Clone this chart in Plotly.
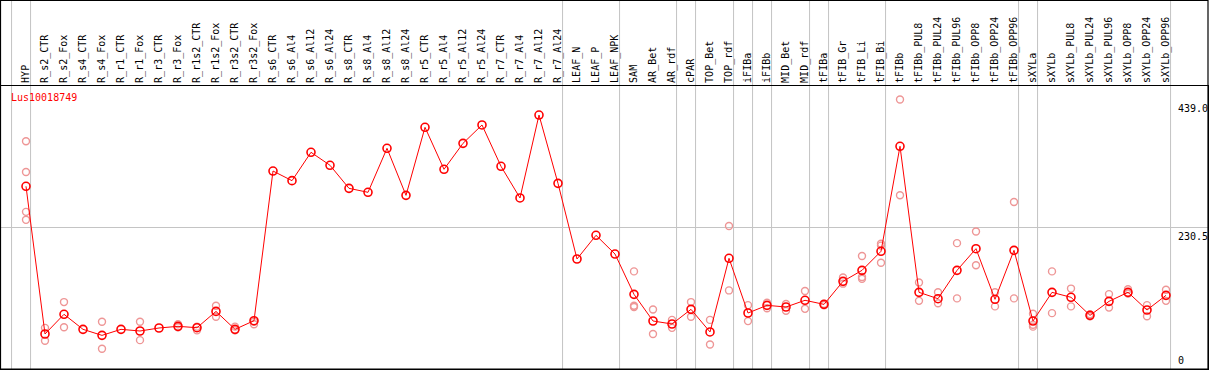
import plotly.graph_objects as go

categories = [
    "HYP", "R_s2_CTR", "R_s2_Fox", "R_s4_CTR", "R_s4_Fox", "R_r1_CTR", "R_r1_Fox",
    "R_r3_CTR", "R_r3_Fox", "R_r1s2_CTR", "R_r1s2_Fox", "R_r3s2_CTR", "R_r3s2_Fox",
    "R_s6_CTR", "R_s6_Al4", "R_s6_Al12", "R_s6_Al24",
    "R_s8_CTR", "R_s8_Al4", "R_s8_Al12", "R_s8_Al24",
    "R_r5_CTR", "R_r5_Al4", "R_r5_Al12", "R_r5_Al24",
    "R_r7_CTR", "R_r7_Al4", "R_r7_Al12", "R_r7_Al24",
    "LEAF_N", "LEAF_P", "LEAF_NPK", "SAM", "AR_Bet", "AR_rdf", "cPAR",
    "TOP_Bet", "TOP_rdf", "iFIBa", "iFIBb", "MID_Bet", "MID_rdf",
    "tFIBa", "tFIB_Gr", "tFIB_Li", "tFIB_Bi", "tFIBb",
    "tFIBb_PUL8", "tFIBb_PUL24", "tFIBb_PUL96", "tFIBb_OPP8", "tFIBb_OPP24", "tFIBb_OPP96",
    "sXYLa", "sXYLb",
    "sXYLb_PUL8", "sXYLb_PUL24", "sXYLb_PUL96", "sXYLb_OPP8", "sXYLb_OPP24", "sXYLb_OPP96",
]

mean_values = [
    297.6, 57.0, 89.1, 64.6, 54.8, 64.6, 61.9, 66.8, 69.5, 67.3, 93.8, 64.6, 78.7,
    322.5, 306.8, 353.0, 331.8,
    294.3, 287.8, 359.5, 282.9,
    393.7, 325.3, 367.6, 397.5,
    330.2, 278.6, 413.7, 302.4,
    179.2, 217.8, 187.3, 121.6, 78.2, 73.3, 97.2,
    60.3, 180.3, 91.2, 103.7, 101.0, 111.9,
    105.3, 142.8, 160.7, 191.7, 362.8,
    124.9, 114.5, 160.7, 196.0, 113.5, 193.3,
    78.2, 124.9,
    116.8, 87.4, 110.2, 124.9, 96.1, 120.0,
]

replicate_values = [
    [371, 321, 256, 243], [67, 46], [109, 68], [], [77, 33], [], [77, 47],
    [], [73, 68], [69, 63], [103, 85], [69, 63], [77, 73],
    [], [], [], [],
    [], [], [], [],
    [], [], [], [],
    [], [], [], [],
    [], [], [], [159, 103, 101], [97, 57], [80, 67], [109, 85],
    [80, 40], [233, 128], [104, 78], [108, 99], [106, 95], [127, 98],
    [106, 104], [149, 139], [184, 150, 147], [204, 201, 173], [439, 283],
    [141, 111], [125, 107], [205, 115], [224, 169], [125, 102], [272, 115],
    [90, 72, 69], [159, 91],
    [131, 102], [89, 86], [122, 100], [130, 123], [104, 86], [129, 111],
]

y_tick_labels = ["439.0", "230.5", "0"]
y_tick_values = [439.0, 230.5, 0]
y_max = 461.0

gene_name = "Lus10018749"
group_ends = ["HYP", "R_r7_Al24", "LEAF_NPK", "AR_rdf", "cPAR", "TOP_rdf", "iFIBa",
              "iFIBb", "MID_rdf", "tFIBa", "tFIB_Bi", "tFIBb_OPP96", "sXYLa", "sXYLb_OPP96"]

FONT = "DejaVu Sans Mono"
W, H = 1209, 370
ML, MR, MT, MB = 1, 1, 86, 1
PW, PH = W - ML - MR, H - MT - MB
SPACING = 19.0
FIRST_PX = 26.0

rep_x, rep_y = [], []
for cat, reps in zip(categories, replicate_values):
    for v in reps:
        rep_x.append(cat)
        rep_y.append(v)

fig = go.Figure()
fig.add_trace(go.Scatter(
    x=rep_x, y=rep_y, mode="markers",
    marker=dict(symbol="circle-open", size=7, color="rgb(238,150,150)",
                line=dict(width=1.4, color="rgb(238,150,150)")),
    hoverinfo="skip", showlegend=False,
))
fig.add_trace(go.Scatter(
    x=categories, y=mean_values, mode="lines+markers",
    line=dict(color="#ff0000", width=1),
    marker=dict(symbol="circle-open", size=8, color="#ff0000",
                line=dict(width=1.6, color="#ff0000")),
    showlegend=False,
))

r0 = -(FIRST_PX - ML) / SPACING
r1 = r0 + PW / SPACING
top_paper = 1 + (MT - 0.5) / PH

shapes = []
sep_positions = [-1 + 0.24] + [categories.index(c) + 0.24 for c in group_ends]
for p in sep_positions:
    shapes.append(dict(type="line", xref="x", yref="paper", x0=p, x1=p, y0=0, y1=top_paper,
                       line=dict(color="#c4c4c4", width=1), layer="below"))
shapes.append(dict(type="rect", xref="paper", yref="paper", x0=-0.5 / PW, x1=1, y0=0, y1=top_paper,
                   line=dict(color="black", width=1.2), fillcolor="rgba(0,0,0,0)"))

annotations = [dict(text=gene_name, xref="paper", yref="paper", x=(9 - ML) / PW, y=1 - (98 - MT) / PH,
                    xanchor="left", yanchor="middle", showarrow=False,
                    font=dict(family=FONT, size=10, color="#ff0000"))]
for lab, val in zip(y_tick_labels, y_tick_values):
    annotations.append(dict(text=lab, xref="paper", yref="y", x=(1176 - ML) / PW, y=val,
                            xanchor="left", yanchor="bottom" if val == 0 else "top",
                            yshift=-1 if val != 0 else 1, showarrow=False,
                            font=dict(family=FONT, size=10, color="black")))

fig.update_layout(
    width=W, height=H,
    margin=dict(l=ML, r=MR, t=MT, b=MB, pad=0),
    paper_bgcolor="white", plot_bgcolor="white",
    shapes=shapes, annotations=annotations,
    hovermode=False,
    xaxis=dict(type="category", categoryorder="array", categoryarray=categories,
               range=[r0, r1], side="top", tickangle=-90, ticks="", showgrid=False,
               zeroline=False, showline=True, linecolor="black", linewidth=1.2, mirror=True,
               tickfont=dict(family=FONT, size=10, color="black")),
    yaxis=dict(range=[0, y_max], tickvals=[230.5], showticklabels=False, ticks="",
               showgrid=True, gridcolor="#c4c4c4", gridwidth=1, zeroline=False,
               showline=True, linecolor="black", linewidth=1.2, mirror=True),
)

fig.write_html("out.html", config={"displayModeBar": False},
               post_script="document.body.style.margin='0px';document.body.style.padding='0px';")
